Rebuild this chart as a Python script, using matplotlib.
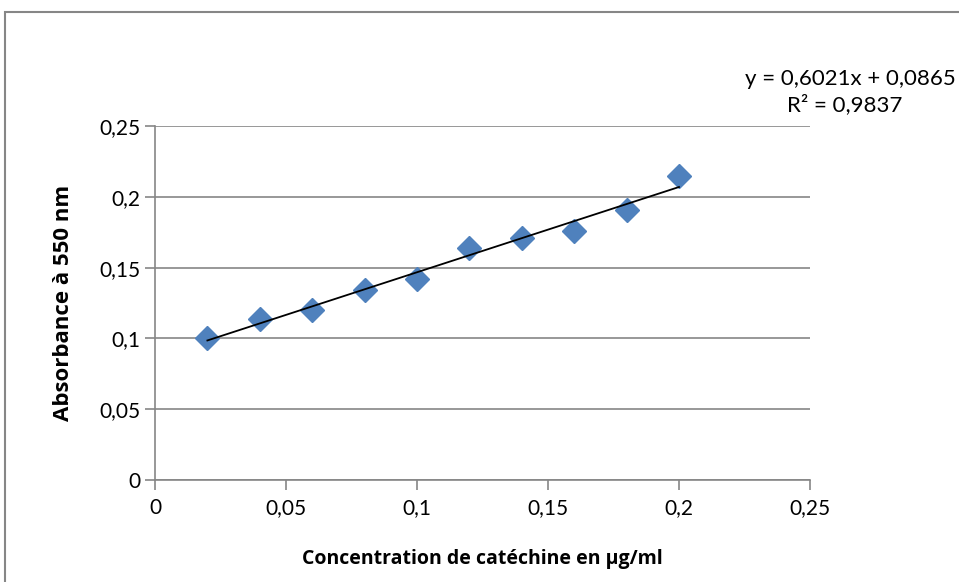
import matplotlib.pyplot as plt
from matplotlib.patches import Rectangle
from matplotlib.ticker import FuncFormatter

# catechin calibration
conc = [0.02, 0.04, 0.06, 0.08, 0.10, 0.12, 0.14, 0.16, 0.18, 0.20]
absorb = [0.100, 0.114, 0.120, 0.134, 0.142, 0.164, 0.171, 0.176, 0.191, 0.215]
slope = 0.6021
intercept = 0.0865
r2 = 0.9837

plt.rcParams['font.family'] = ['Lato', 'DejaVu Sans']
grey = '#868686'

fig = plt.figure(figsize=(9.59, 5.82), dpi=100)
fig.patches.append(Rectangle((5 / 959, -0.1), 1.2, 1 - 12 / 582 + 0.1,
                             transform=fig.transFigure, fill=False,
                             edgecolor=grey, linewidth=1.5))

ax = fig.add_axes([155 / 959, 1 - 480 / 582, 655 / 959, 354 / 582])

ax.plot(conc, absorb, linestyle='none', marker='D', markersize=12,
        color='#4F81BD', zorder=3)
x_fit = [conc[0], conc[-1]]
y_fit = [slope * x + intercept for x in x_fit]
ax.plot(x_fit, y_fit, color='black', linewidth=1.3, zorder=4)

ax.set_xlim(0, 0.25)
ax.set_ylim(0, 0.25)
ax.set_xticks([0, 0.05, 0.1, 0.15, 0.2, 0.25])
ax.set_yticks([0, 0.05, 0.1, 0.15, 0.2, 0.25])
fmt = FuncFormatter(lambda v, p: ('%g' % round(v, 2)).replace('.', ','))
ax.xaxis.set_major_formatter(fmt)
ax.yaxis.set_major_formatter(fmt)

ax.grid(axis='y', color=grey, linewidth=1.2)
ax.set_axisbelow(True)
for s in ['top', 'right']:
    ax.spines[s].set_visible(False)
for s in ['left', 'bottom']:
    ax.spines[s].set_color(grey)
    ax.spines[s].set_linewidth(1.2)
ax.tick_params(colors=grey, labelcolor='black', labelsize=15, length=7,
               width=1.2)
ax.tick_params(axis='x', pad=6)

ax.set_xlabel('Concentration de catéchine en µg/ml', fontsize=14,
              fontweight='bold', family=['Open Sans', 'DejaVu Sans'],
              labelpad=22)
ax.set_ylabel('Absorbance à 550 nm', fontsize=16, fontweight='bold',
              family=['Open Sans', 'DejaVu Sans'], labelpad=18)

fig.text(850 / 959, 1 - 79 / 582, 'y = 0,6021x + 0,0865', fontsize=16,
         ha='center', va='center')
fig.text(845 / 959, 1 - 105 / 582, 'R² = %s' % str(r2).replace('.', ','),
         fontsize=16, ha='center', va='center')

fig.savefig('out.png', dpi=100)
